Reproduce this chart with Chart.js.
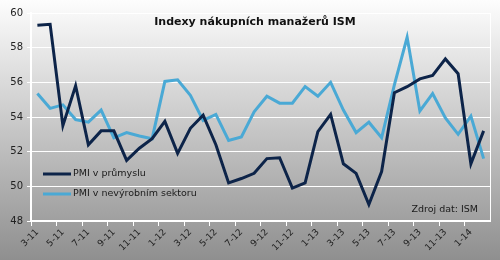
<!DOCTYPE html>
<html><head><meta charset="utf-8">
<script src="https://cdn.jsdelivr.net/npm/chart.js@4/dist/chart.umd.min.js"></script>
<style>html,body{margin:0;padding:0;background:#ccc}#wrap{width:500px;height:260px}</style>
</head><body><div id="wrap"><canvas id="c" width="500" height="260"></canvas></div>
<script>
const categories = ["3-11","4-11","5-11","6-11","7-11","8-11","9-11","10-11","11-11","12-11",
"1-12","2-12","3-12","4-12","5-12","6-12","7-12","8-12","9-12","10-12","11-12","12-12",
"1-13","2-13","3-13","4-13","5-13","6-13","7-13","8-13","9-13","10-13","11-13","12-13",
"1-14","2-14"];
const pmiManufacturing = [59.3,59.35,53.5,55.8,52.4,53.2,53.2,51.5,52.2,52.75,
53.75,51.9,53.35,54.1,52.4,50.2,50.45,50.75,51.6,51.65,49.9,50.2,
53.15,54.15,51.3,50.75,48.95,50.85,55.4,55.75,56.2,56.4,57.35,56.5,
51.3,53.2];
const pmiNonManufacturing = [55.35,54.5,54.7,53.85,53.7,54.4,52.8,53.1,52.9,52.75,
56.05,56.15,55.25,53.8,54.15,52.65,52.85,54.3,55.2,54.8,54.8,55.75,
55.2,56.0,54.4,53.1,53.7,52.8,55.85,58.6,54.35,55.35,53.95,53.0,
54.05,51.6];
const yTicks = [48,50,52,54,56,58,60];
const seriesNames = ["PMI v průmyslu","PMI v nevýrobním sektoru"];
const titleText = "Indexy nákupních manažerů ISM";
const sourceText = "Zdroj dat: ISM";

const FONT = "'DejaVu Sans', Verdana, sans-serif";
const bgPlugin = {
  id:'bg',
  beforeDraw(chart){
    const {ctx,width,height} = chart;
    const g = ctx.createLinearGradient(0,0,0,height);
    g.addColorStop(0,'#fdfdfd');
    g.addColorStop(1,'#8f8f8f');
    ctx.save();ctx.fillStyle=g;ctx.fillRect(0,0,width,height);ctx.restore();
  },
  afterDraw(chart){
    const {ctx,chartArea:a} = chart;
    ctx.save();
    ctx.strokeStyle='#ffffff';ctx.lineWidth=1;
    ctx.beginPath();ctx.moveTo(a.right+0.5,a.top);ctx.lineTo(a.right+0.5,a.bottom);ctx.stroke();
    ctx.fillStyle='#111';
    ctx.font="bold 11px "+FONT;
    ctx.textAlign='center';ctx.textBaseline='middle';
    ctx.fillText(titleText,255,22);
    // legend
    ctx.font="9.5px "+FONT;ctx.textAlign='left';
    chart.data.datasets.forEach((ds,i)=>{
      const y = 174 + i*20;
      ctx.strokeStyle=ds.borderColor;ctx.lineWidth=3;
      ctx.beginPath();ctx.moveTo(43,y);ctx.lineTo(71,y);ctx.stroke();
      ctx.fillStyle='#1a1a1a';
      ctx.fillText(ds.label,73,y);
    });
    ctx.textAlign='right';
    ctx.fillText(sourceText,478,210);
    ctx.restore();
  }
};

new Chart(document.getElementById('c'),{
  type:'line',
  data:{labels:categories,datasets:[
    {label:seriesNames[0],data:pmiManufacturing,borderColor:'#0d2449',borderWidth:3,pointRadius:0,tension:0,fill:false},
    {label:seriesNames[1],data:pmiNonManufacturing,borderColor:'#4aa9d5',borderWidth:3,pointRadius:0,tension:0,fill:false}
  ]},
  options:{
    responsive:false,animation:false,
    layout:{padding:{left:0,right:10,top:13,bottom:0}},
    plugins:{legend:{display:false},tooltip:{enabled:false},title:{display:false}},
    scales:{
      x:{
        offset:true,
        grid:{offset:true,drawOnChartArea:false,drawTicks:true,tickLength:5,
          color:(c)=> (c.index%2===0)?'#ffffff':'rgba(0,0,0,0)',lineWidth:1},
        border:{display:true,color:'#ffffff',width:2},
        ticks:{autoSkip:false,minRotation:45,maxRotation:45,padding:1,
          color:'#222',font:{family:FONT,size:9},
          callback:(v,i)=> i%2===0 ? categories[i] : ''},
        afterFit:(s)=>{s.height=39;}
      },
      y:{
        min:48,max:60,
        afterBuildTicks:(s)=>{s.ticks=yTicks.map(v=>({value:v}));},
        grid:{color:'#ffffff',lineWidth:1,drawTicks:true,tickLength:4},
        border:{display:true,color:'#ffffff',width:2},
        ticks:{color:'#222',font:{family:FONT,size:10},padding:4},
        afterFit:(s)=>{s.width=31;}
      }
    }
  },
  plugins:[bgPlugin]
});
</script></body></html>
